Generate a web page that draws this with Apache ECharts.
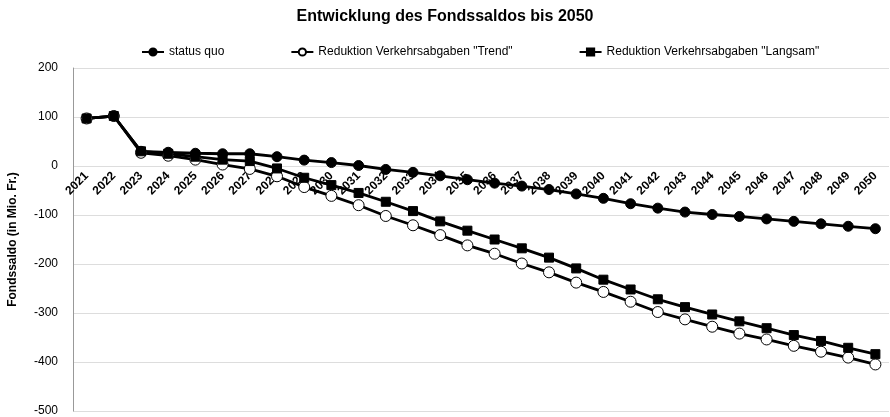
<!DOCTYPE html>
<html><head><meta charset="utf-8">
<script src="https://cdn.jsdelivr.net/npm/echarts@6/dist/echarts.min.js"></script>
<style>html,body{margin:0;padding:0;background:#fff}#c{width:890px;height:417px}</style>
</head><body><div id="c"></div>
<script>
const years = ['2021','2022','2023','2024','2025','2026','2027','2028','2029','2030','2031','2032','2033','2034','2035','2036','2037','2038','2039','2040','2041','2042','2043','2044','2045','2046','2047','2048','2049','2050'];
const statusQuo = [97,102,30,28,26,25,25,19,12,7,1,-7,-13,-20,-28,-35,-41,-48,-57,-66,-77,-86,-94,-99,-103,-108,-113,-118,-123,-128];
const trend = [97,102,27,21,13,3,-6,-21,-43,-61,-80,-102,-121,-141,-162,-179,-199,-217,-238,-257,-277,-298,-313,-328,-342,-354,-367,-379,-391,-405];
const langsam = [97,102,30,25,19,13,10,-5,-24,-39,-55,-73,-92,-113,-132,-150,-168,-187,-209,-232,-252,-272,-288,-303,-317,-331,-345,-357,-371,-384];
const yTicks = {min:-500, max:200, interval:100};

const font = 'Liberation Sans, Arial, sans-serif';
const chart = echarts.init(document.getElementById('c'));
function ser(name, data, symbol, fill, size){
  return {name, type:'line', data, symbol, symbolSize:size, showSymbol:true,
    lineStyle:{color:'#000', width:2.8},
    itemStyle:{color:fill, borderColor:'#000', borderWidth:1},
    emphasis:{disabled:true}, animation:false};
}
chart.setOption({
  animation:false,
  title:{text:'Entwicklung des Fondssaldos bis 2050', left:'center', top:4,
    textStyle:{fontFamily:font, fontSize:16, fontWeight:'bold', color:'#000'}},
  legend:{top:41, left:136, itemGap:66, itemWidth:22, itemHeight:9,
    textStyle:{fontFamily:font, fontSize:12, color:'#000'},
    data:['status quo','Reduktion Verkehrsabgaben "Trend"','Reduktion Verkehrsabgaben "Langsam"']},
  grid:{left:73, right:1, top:68, bottom:6, containLabel:false, outerBoundsMode:'none'},
  xAxis:{type:'category', data:years, boundaryGap:true, position:'bottom', offset:-245,
    axisLine:{show:false, onZero:false}, axisTick:{show:false},
    axisLabel:{rotate:45, margin:8, interval:0, fontFamily:font, fontSize:12, fontWeight:'bold', color:'#000'},
    splitLine:{show:false}},
  yAxis:{type:'value', min:yTicks.min, max:yTicks.max, interval:yTicks.interval,
    name:'Fondssaldo (in Mio. Fr.)', nameLocation:'middle', nameGap:54, nameRotate:90,
    nameTextStyle:{fontFamily:font, fontSize:12, fontWeight:'bold', color:'#000'},
    axisLine:{show:true, onZero:false, lineStyle:{color:'#999'}}, axisTick:{show:false},
    axisLabel:{margin:15, fontFamily:font, fontSize:12, color:'#000'},
    splitLine:{lineStyle:{color:'#ddd'}}},
  series:[
    ser('status quo', statusQuo, 'circle', '#000', 10),
    ser('Reduktion Verkehrsabgaben "Trend"', trend, 'circle', '#fff', 11),
    ser('Reduktion Verkehrsabgaben "Langsam"', langsam, 'rect', '#000', 9)
  ]
});
</script></body></html>
